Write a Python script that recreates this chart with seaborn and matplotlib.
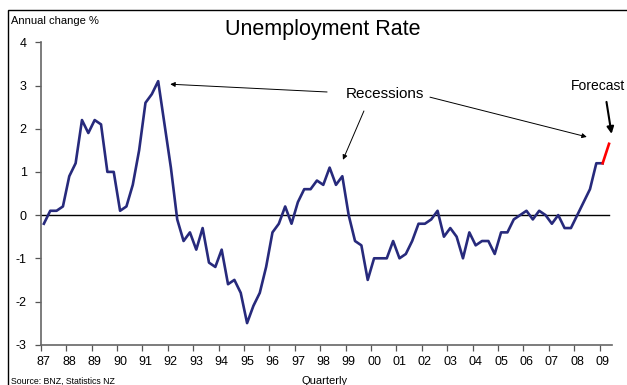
import matplotlib
matplotlib.use("Agg")
import matplotlib.pyplot as plt
import seaborn as sns
import pandas as pd
import numpy as np
from matplotlib.patches import Rectangle

# ---- data (quarterly, 1987 Q1 .. 2009 Q2) ----
years = ["87", "88", "89", "90", "91", "92", "93", "94", "95", "96", "97", "98",
         "99", "00", "01", "02", "03", "04", "05", "06", "07", "08", "09"]
actual = [
    -0.2, 0.1, 0.1, 0.2,      # 87
    0.9, 1.2, 2.2, 1.9,       # 88
    2.2, 2.1, 1.0, 1.0,       # 89
    0.1, 0.2, 0.7, 1.5,       # 90
    2.6, 2.8, 3.1, 2.1,       # 91
    1.1, -0.1, -0.6, -0.4,    # 92
    -0.8, -0.3, -1.1, -1.2,   # 93
    -0.8, -1.6, -1.5, -1.8,   # 94
    -2.5, -2.1, -1.8, -1.2,   # 95
    -0.4, -0.2, 0.2, -0.2,    # 96
    0.3, 0.6, 0.6, 0.8,       # 97
    0.7, 1.1, 0.7, 0.9,       # 98
    0.0, -0.6, -0.7, -1.5,    # 99
    -1.0, -1.0, -1.0, -0.6,   # 00
    -1.0, -0.9, -0.6, -0.2,   # 01
    -0.2, -0.1, 0.1, -0.5,    # 02
    -0.3, -0.5, -1.0, -0.4,   # 03
    -0.7, -0.6, -0.6, -0.9,   # 04
    -0.4, -0.4, -0.1, 0.0,    # 05
    0.1, -0.1, 0.1, 0.0,      # 06
    -0.2, 0.0, -0.3, -0.3,    # 07
    0.0, 0.3, 0.6, 1.2,       # 08
    1.2,                      # 09 Q1
]
forecast = [1.2, 1.65]        # 09 Q1 -> 09 Q2

n_act = len(actual)
df_act = pd.DataFrame({"q": np.arange(n_act), "v": actual})
df_fc = pd.DataFrame({"q": np.arange(n_act - 1, n_act - 1 + len(forecast)), "v": forecast})
n_total = n_act - 1 + len(forecast)

plt.rcParams["font.family"] = ["Liberation Sans", "DejaVu Sans"]

fig = plt.figure(figsize=(6.27, 3.85), dpi=100)
ax = fig.add_axes([40.7 / 627, 1 - 344.7 / 385, (612.2 - 40.7) / 627, (344.7 - 42.3) / 385])

# outer frame
fig.patches.append(Rectangle((8 / 627, -0.1), 1.2, 1 - 10 / 385 + 0.1, transform=fig.transFigure,
                             fill=False, edgecolor="black", linewidth=1.0, zorder=0))

ax.axhline(0, color="black", linewidth=1.0, xmin=0, xmax=(608.5 - 40.7) / (612.2 - 40.7), zorder=1)

navy = "#272a7c"
sns.lineplot(data=df_act, x="q", y="v", ax=ax, color=navy, linewidth=1.9, zorder=3)
sns.lineplot(data=df_fc, x="q", y="v", ax=ax, color="#ff0000", linewidth=1.9, zorder=3)

ax.set_xlim(-0.5, n_total - 0.5)
ax.set_ylim(-3, 4)
ax.set_yticks(range(-3, 5))
ax.set_yticklabels([str(t) for t in range(-3, 5)], fontsize=9)

ax.set_xticks(np.arange(-0.5, n_total, 4))
ax.set_xticklabels([])
ax.set_xticks(np.arange(0, n_total, 4), minor=True)
ax.set_xticklabels(years, minor=True, fontsize=9)
ax.tick_params(axis="x", which="major", direction="out", length=4, width=0.9, color="#555555")
ax.tick_params(axis="x", which="minor", length=0, pad=8)
ax.tick_params(axis="y", direction="out", length=4, width=0.9, color="#555555", pad=6)

for s in ["top", "right"]:
    ax.spines[s].set_visible(False)
for s in ["left", "bottom"]:
    ax.spines[s].set_color("#666666")
    ax.spines[s].set_linewidth(1.2)
ax.set_xlabel("")
ax.set_ylabel("")
ax.patch.set_alpha(0)

# texts
fig.text(11 / 627, 1 - 21 / 385, "Annual change %", fontsize=8, va="center", ha="left")
fig.text(323 / 627, 1 - 30 / 385, "Unemployment Rate", fontsize=15.5, va="center", ha="center")
fig.text(11 / 627, 1 - 381 / 385, "Source: BNZ, Statistics NZ", fontsize=6.3, va="center", ha="left")
fig.text(325 / 627, 1 - 381 / 385, "Quarterly", fontsize=8, va="center", ha="center")

ax.text(53.7, 2.8, "Recessions", fontsize=11, ha="center", va="center")
ax.text(87.3, 2.99, "Forecast", fontsize=10, ha="center", va="center")

thin = dict(arrowstyle="-|>", color="black", lw=0.7, mutation_scale=7, shrinkA=0, shrinkB=0)
ax.annotate("", xy=(19.9, 3.03), xytext=(44.6, 2.85), arrowprops=thin)
ax.annotate("", xy=(47.1, 1.28), xytext=(50.4, 2.41), arrowprops=thin)
ax.annotate("", xy=(85.5, 1.81), xytext=(60.8, 2.73), arrowprops=thin)
thick = dict(arrowstyle="-|>", color="black", lw=1.5, mutation_scale=10, shrinkA=0, shrinkB=0)
ax.annotate("", xy=(89.4, 1.88), xytext=(88.6, 2.62), arrowprops=thick)

fig.savefig("out.png", dpi=100)
